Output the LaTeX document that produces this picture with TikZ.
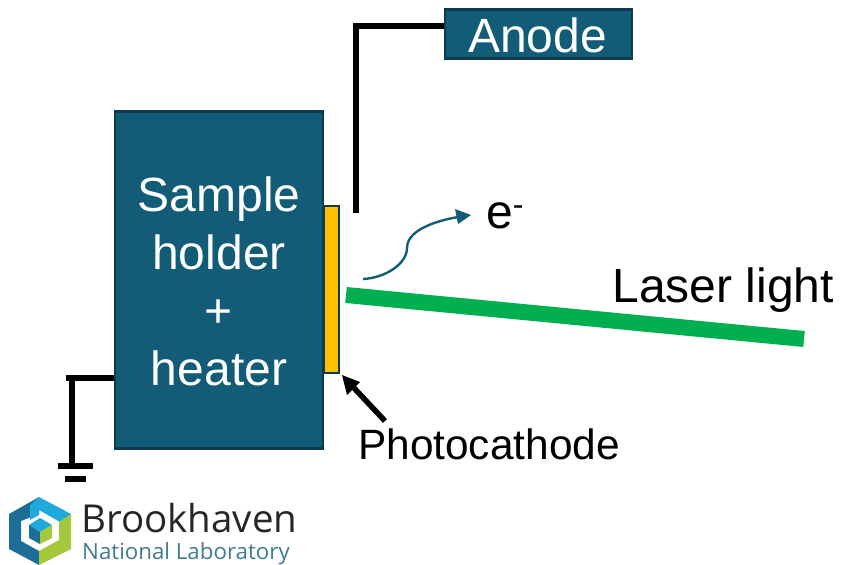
\documentclass[tikz,border=0pt]{standalone}
\usepackage{fontspec}
\setmainfont{Liberation Sans}
\newfontfamily\logofont{Open Sans}
\definecolor{teal}{HTML}{135C78}
\definecolor{tealdark}{HTML}{0C3A4E}
\definecolor{gold}{HTML}{FFC000}
\definecolor{laser}{HTML}{00B050}
\definecolor{logoblue}{HTML}{1C6E96}
\definecolor{logosky}{HTML}{1FA9DC}
\definecolor{logogreen}{HTML}{A6C83C}
\definecolor{logotext}{HTML}{3F7C92}
\tikzset{
  x=1pt,y=-1pt,
  box/.style={draw=tealdark,line width=2.8pt,fill=teal,text=white,inner sep=0pt,align=center},
  wire/.style={draw=black,line width=5.5pt,line cap=butt},
  lbl/.style={inner sep=0pt,text=black,font=\fontsize{48}{48}\selectfont},
}
\begin{document}
\begin{tikzpicture}
\useasboundingbox (0,0) rectangle (841,565);
% holder
\node[box,minimum width=208pt,minimum height=337pt,anchor=north west] (holder) at (113.5,110) {};
\node[inner sep=0pt,text=white,align=center,font=\fontsize{48}{58}\selectfont] (holdertext) at (219,281) {Sample\\holder\\+\\heater};
% photocathode
\node[draw=tealdark,line width=2pt,fill=gold,inner sep=0pt,minimum width=15pt,minimum height=167pt,anchor=north west] (cathode) at (322.5,205) {};
% anode
\node[box,minimum width=187pt,minimum height=49pt,anchor=north west] (anode) at (443.5,8) {};
\node[inner sep=0pt,text=white,font=\fontsize{48}{48}\selectfont] (anodetext) at (537.5,35.5) {Anode};
\coordinate (anodewire) at (356,213);
\draw[wire] (anode.west |- 0,26) -- (356,26) -- (anodewire);
% ground
\draw[wire] (holder.west |- 0,378) -- (66,378);
\draw[wire] (72,378) -- (72,465);
\node[fill=black,inner sep=0pt,minimum width=35pt,minimum height=6pt] (g1) at (75,465.5) {};
\node[fill=black,inner sep=0pt,minimum width=21pt,minimum height=6pt] (g2) at (75,479) {};
% laser
\coordinate (l1) at (346,295);
\coordinate (l2) at (804,339);
\draw[laser,line width=16pt] (l1) -- (l2);
\node[lbl,anchor=base east] (laserlbl) at (834,302) {Laser light};
% electron
\node[inner sep=0pt,anchor=base west,font=\fontsize{48}{48}\selectfont] (elec) at (486,228) {e\raisebox{3pt}{\textsuperscript{\fontsize{32}{32}\selectfont -}}};
\coordinate (e0) at (363,279);
\coordinate (e1) at (471,215);
\draw[teal,line width=2.4pt] (e0) .. controls (385,278) and (407,264) .. (407,248) .. controls (407,232) and (430,222) .. (458,217);
\fill[teal] (e1) -- (455,209) -- (458,224) -- cycle;
% photocathode label
\node[inner sep=0pt,anchor=base west,font=\fontsize{42.4}{42.4}\selectfont] (pclbl) at (358,459) {Photocathode};
\coordinate (a0) at (385,421);
\coordinate (a1) at (342,375);
\draw[black,line width=5.5pt] (a0) -- (354,388);
\fill[black] (a1) -- (360,382) -- (347,395) -- cycle;
% logo
\fill[logoblue] (39,514) -- (39,497) -- (9,514) -- (9,549) -- (39,565) -- (39,551) -- (21,541) -- (21,521) -- cycle;
\fill[logosky] (39,497) -- (71,514) -- (60,522) -- (39,510) -- (39,515) -- (30,520) -- (30,505) -- cycle;
\fill[logogreen] (71,514) -- (71,549) -- (39,565) -- (39,551) -- (59,540) -- (59,522) -- cycle;
\fill[logosky] (40,518) -- (52,525) -- (40,532) -- (29,525) -- cycle;
\fill[logoblue] (29,525) -- (40,532) -- (40,544) -- (29,538) -- cycle;
\fill[logogreen] (52,525) -- (40,532) -- (40,544) -- (52,538) -- cycle;
\node[inner sep=0pt,anchor=base west,text=black!85,font=\logofont\fontsize{38.5}{38.5}\selectfont] (brook) at (81,532) {Brookhaven};
\node[inner sep=0pt,anchor=base west,text=logotext,font=\logofont\fontsize{22.3}{22.3}\selectfont] (nat) at (82,559) {National Laboratory};
\end{tikzpicture}
\end{document}
